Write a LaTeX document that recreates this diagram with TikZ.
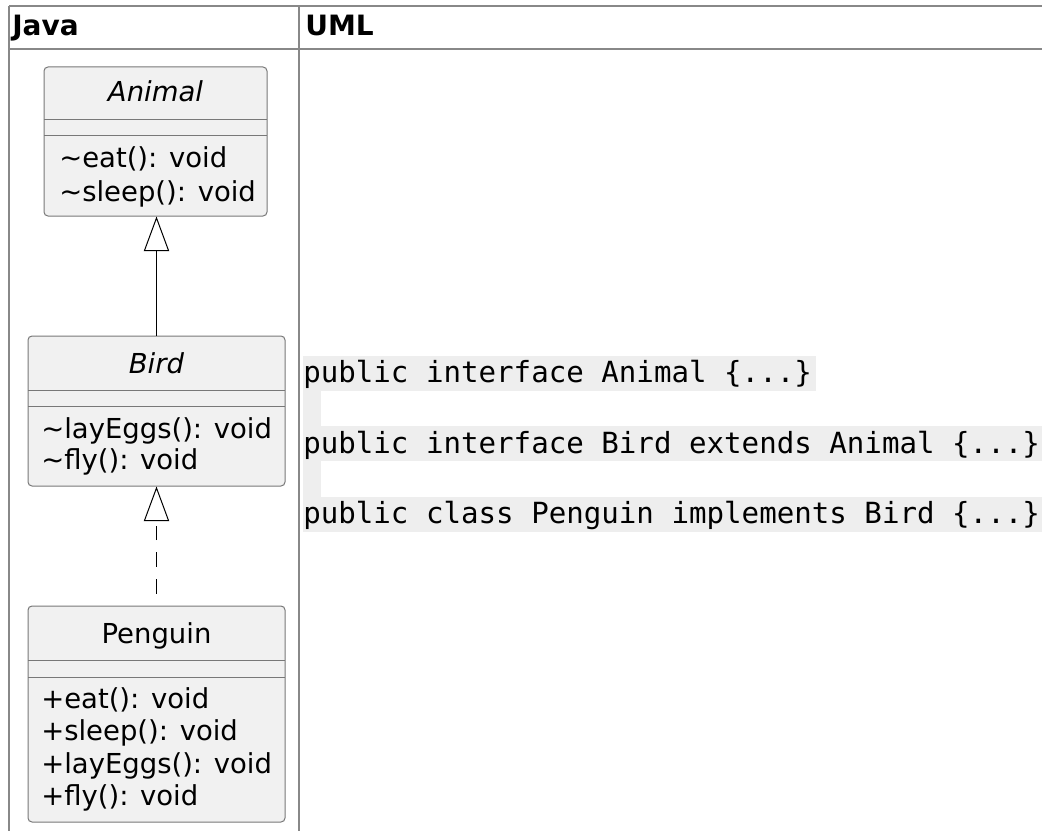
\documentclass[tikz,border=0pt]{standalone}
\usepackage{fontspec}
\setmainfont{DejaVu Sans}
\newfontfamily\codefont{DejaVu Sans Mono}
\usetikzlibrary{arrows.meta}

\definecolor{tableline}{RGB}{136,136,136}
\definecolor{classfill}{RGB}{241,241,241}
\definecolor{classline}{RGB}{120,120,120}
\definecolor{codefill}{RGB}{238,238,238}

\begin{document}
\begin{tikzpicture}[x = 0.75pt, y = -0.75pt,
	head/.style = {anchor = base west, inner sep = 0pt, font = \bfseries\fontsize{21}{25}\selectfont},
	classbox/.style = {draw = classline, fill = classfill, line width = 0.75pt, rounded corners = 3pt, inner sep = 0pt},
	title/.style = {anchor = base, inner sep = 0pt, font = \fontsize{20.6}{25}\selectfont},
	abstract/.style = {title, font = \fontsize{20.6}{25}\selectfont\itshape},
	member/.style = {anchor = base west, inner sep = 0pt, font = \fontsize{20.6}{25}\selectfont},
	code/.style = {anchor = base west, inner sep = 0pt, font = \codefont\fontsize{21.85}{26}\selectfont},
	extends/.style = {line width = 0.75pt, -{Triangle[open, length = 26pt, width = 19pt]}},
	implements/.style = {extends, dash pattern = on 11pt off 9pt, dash phase = 11pt}]

	\useasboundingbox [fill = white] (0, 0) rectangle (1042, 831);

	% table frame
	\draw [tableline, line width = 1.1pt] (9, 6) -- (1042, 6) (9, 49) -- (1042, 49) (9, 6) -- (9, 831) (299, 6) -- (299, 831);

	\node [head] (java) at (12, 36) {Java};
	\node [head] (uml) at (305, 36) {UML};

	% Animal
	\node [classbox, minimum width = 167.25pt, minimum height = 111.75pt] (animal) at (155.5, 141.5) {};
	\draw [classline, line width = 0.75pt] (44, 120) -- (267, 120) (44, 136) -- (267, 136);
	\node [abstract] (animal name) at (155.5, 102) {Animal};
	\node [member] (animal eat) at (59, 168) {\textasciitilde eat(): void};
	\node [member] (animal sleep) at (59, 201) {\textasciitilde sleep(): void};

	% Bird
	\node [classbox, minimum width = 192.75pt, minimum height = 112.5pt] (bird) at (156.5, 411) {};
	\draw [classline, line width = 0.75pt] (28, 390) -- (285, 390) (28, 406) -- (285, 406);
	\node [abstract] (bird name) at (156.5, 373) {Bird};
	\node [member] (bird lay) at (41, 438) {\textasciitilde layEggs(): void};
	\node [member] (bird fly) at (41, 469) {\textasciitilde fly(): void};

	% Penguin
	\node [classbox, minimum width = 192.75pt, minimum height = 162pt] (penguin) at (156.5, 714) {};
	\draw [classline, line width = 0.75pt] (28, 660) -- (285, 660) (28, 677) -- (285, 677);
	\node [title] (penguin name) at (156.5, 643) {Penguin};
	\node [member] (penguin eat) at (41, 708) {+eat(): void};
	\node [member] (penguin sleep) at (41, 740) {+sleep(): void};
	\node [member] (penguin lay) at (41, 773) {+layEggs(): void};
	\node [member] (penguin fly) at (41, 805) {+fly(): void};

	\draw [extends] (bird.north) -- (bird.north |- animal.south);
	\draw [implements] (penguin.north) -- (bird.south);

	% code
	\fill [codefill] (303, 356) rectangle (816, 391);
	\fill [codefill] (303, 391) rectangle (321, 426);
	\fill [codefill] (303, 426) rectangle (1042, 461);
	\fill [codefill] (303, 461) rectangle (321, 497);
	\fill [codefill] (303, 497) rectangle (1042, 532);

	\node [code] (code animal) at (303, 382) {public interface Animal \{...\}};
	\node [code] (code bird) at (303, 453) {public interface Bird extends Animal \{...\}};
	\node [code] (code penguin) at (303, 523) {public class Penguin implements Bird \{...\}};

\end{tikzpicture}
\end{document}
